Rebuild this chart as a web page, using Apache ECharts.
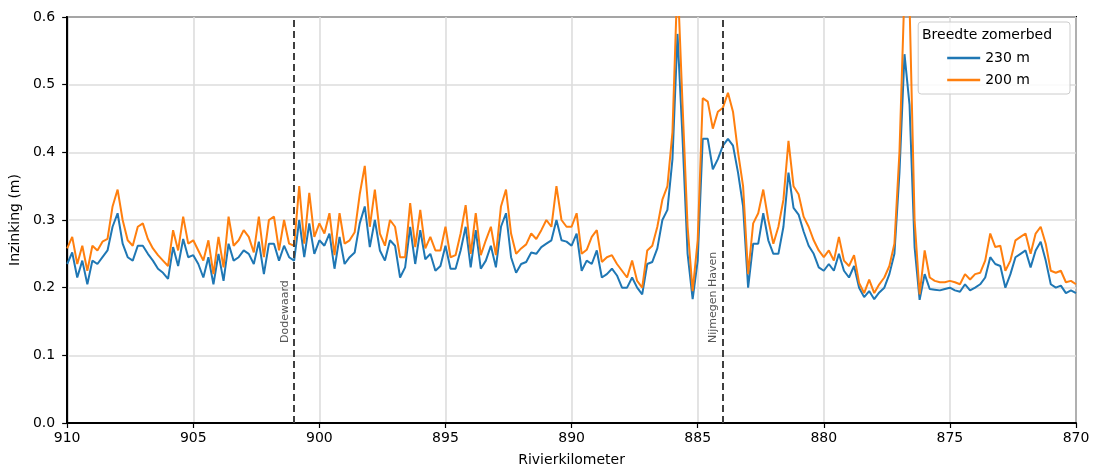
<!DOCTYPE html>
<html>
<head>
<meta charset="utf-8">
<script src="https://cdn.jsdelivr.net/npm/echarts@6/dist/echarts.min.js"></script>
<style>
  html, body { margin: 0; padding: 0; background: #fff; }
  #main { width: 1094px; height: 472px; }
</style>
</head>
<body>
<div id="main"></div>
<script>
// Inzinking per 0.2 km, van rkm 910 naar rkm 870
const zomerbed230 = [
  0.235, 0.252, 0.215, 0.24, 0.205, 0.24, 0.235, 0.245, 0.255, 0.29,
  0.31, 0.265, 0.245, 0.24, 0.262, 0.262, 0.25, 0.24, 0.228, 0.222,
  0.213, 0.26, 0.232, 0.272, 0.245, 0.248, 0.235, 0.215, 0.245, 0.205,
  0.25, 0.21, 0.265, 0.24, 0.245, 0.255, 0.25, 0.235, 0.268, 0.22,
  0.265, 0.265, 0.24, 0.262, 0.245, 0.24, 0.30, 0.245, 0.295, 0.25,
  0.27, 0.262, 0.28, 0.228, 0.275, 0.235, 0.245, 0.252, 0.295, 0.32,
  0.26, 0.30, 0.255, 0.24, 0.27, 0.262, 0.215, 0.23, 0.29, 0.235,
  0.285, 0.242, 0.25, 0.225, 0.232, 0.262, 0.228, 0.228, 0.255, 0.29,
  0.23, 0.285, 0.228, 0.24, 0.262, 0.23, 0.29, 0.31, 0.245, 0.222,
  0.235, 0.238, 0.252, 0.25, 0.26, 0.265, 0.27, 0.30, 0.27, 0.268,
  0.262, 0.28, 0.225, 0.24, 0.235, 0.255, 0.215, 0.22, 0.228, 0.218,
  0.20, 0.20, 0.215, 0.20, 0.19, 0.235, 0.238, 0.258, 0.30, 0.315,
  0.39, 0.575, 0.42, 0.25, 0.183, 0.24, 0.42, 0.42, 0.375, 0.39,
  0.41, 0.42, 0.41, 0.37, 0.32, 0.20, 0.265, 0.265, 0.31, 0.27,
  0.25, 0.25, 0.29, 0.37, 0.318, 0.308, 0.283, 0.262, 0.25, 0.23,
  0.225, 0.235, 0.225, 0.25, 0.225, 0.215, 0.232, 0.20, 0.186, 0.195,
  0.183, 0.193, 0.20, 0.22, 0.25, 0.37, 0.545, 0.47, 0.26, 0.182,
  0.22, 0.198, 0.197, 0.196, 0.198, 0.20, 0.196, 0.194, 0.205, 0.196,
  0.20, 0.205, 0.215, 0.245, 0.235, 0.232, 0.20, 0.22, 0.245, 0.25,
  0.255, 0.23, 0.255, 0.268, 0.24, 0.205, 0.20, 0.203, 0.192, 0.196,
  0.192
];

const zomerbed200 = [
  0.258, 0.275, 0.235, 0.262, 0.225, 0.262, 0.255, 0.268, 0.272, 0.32,
  0.345, 0.30, 0.27, 0.262, 0.29, 0.295, 0.272, 0.258, 0.248, 0.24,
  0.232, 0.285, 0.255, 0.305, 0.265, 0.27, 0.255, 0.24, 0.27, 0.22,
  0.275, 0.23, 0.305, 0.262, 0.27, 0.285, 0.275, 0.252, 0.305, 0.245,
  0.30, 0.305, 0.255, 0.30, 0.265, 0.262, 0.35, 0.265, 0.34, 0.275,
  0.295, 0.28, 0.31, 0.248, 0.31, 0.265, 0.27, 0.282, 0.338, 0.38,
  0.29, 0.345, 0.28, 0.262, 0.30, 0.29, 0.245, 0.245, 0.325, 0.26,
  0.315, 0.258, 0.275, 0.255, 0.255, 0.29, 0.245, 0.248, 0.28, 0.322,
  0.25, 0.31, 0.248, 0.27, 0.29, 0.248, 0.32, 0.345, 0.28, 0.25,
  0.258, 0.264, 0.28, 0.272, 0.285, 0.30, 0.29, 0.35, 0.30, 0.29,
  0.29, 0.31, 0.25, 0.256, 0.275, 0.285, 0.238, 0.245, 0.248, 0.235,
  0.225, 0.215, 0.24, 0.21, 0.20, 0.255, 0.262, 0.29, 0.33, 0.35,
  0.43, 0.66, 0.47, 0.29, 0.195, 0.27, 0.48, 0.475, 0.435, 0.46,
  0.466, 0.488, 0.46, 0.40, 0.35, 0.22, 0.295, 0.31, 0.345, 0.30,
  0.265, 0.29, 0.33, 0.417, 0.35, 0.338, 0.305, 0.29, 0.27, 0.255,
  0.245, 0.255, 0.24, 0.275, 0.24, 0.232, 0.248, 0.207, 0.192, 0.212,
  0.192, 0.205, 0.215, 0.232, 0.265, 0.40, 0.64, 0.62, 0.30, 0.19,
  0.255, 0.215, 0.21, 0.208, 0.208, 0.21, 0.208, 0.205, 0.22, 0.212,
  0.22, 0.222, 0.24, 0.28, 0.26, 0.262, 0.225, 0.24, 0.27, 0.275,
  0.28, 0.25, 0.28, 0.29, 0.265, 0.225, 0.222, 0.225, 0.208, 0.21,
  0.205
];

// rivierkilometers bij de meetpunten (stap 0.2 km)
const rkm = zomerbed230.map((_, i) => +(910 - 0.2 * i).toFixed(1));

const locaties = [
  { naam: "Dodewaard", rkm: 901.0 },
  { naam: "Nijmegen Haven", rkm: 884.0 }
];

const xTicks = [910, 905, 900, 895, 890, 885, 880, 875, 870];

const font = "DejaVu Sans";
const chart = echarts.init(document.getElementById("main"));

const option = {
  animation: false,
  textStyle: { fontFamily: font },
  title: {
    text: "Breedte zomerbed",
    left: 922,
    top: 28,
    padding: 0,
    textStyle: { fontFamily: font, fontSize: 14, fontWeight: "normal", color: "#000" }
  },
  legend: {
    orient: "vertical",
    right: 24,
    top: 22,
    padding: [29, 40, 7, 29],
    itemGap: 8,
    itemWidth: 33,
    itemHeight: 2.5,
    icon: "rect",
    backgroundColor: "rgba(255,255,255,0.85)",
    borderColor: "#cccccc",
    borderWidth: 1,
    borderRadius: 3,
    textStyle: { fontFamily: font, fontSize: 14, color: "#000" },
    data: ["230 m", "200 m"]
  },
  grid: {
    left: 67,
    right: 18,
    top: 17,
    bottom: 46,
    show: true,
    borderColor: "#000",
    borderWidth: 2
  },
  xAxis: {
    type: "value",
    min: 870,
    max: 910,
    interval: 5,
    inverse: true,
    name: "Rivierkilometer",
    nameLocation: "middle",
    nameGap: 30,
    nameTextStyle: { fontFamily: font, fontSize: 14, color: "#000" },
    axisLine: { show: true, lineStyle: { color: "#000", width: 2 } },
    axisTick: { show: true, length: 5, lineStyle: { color: "#000", width: 1.2 } },
    axisLabel: {
      margin: 8,
      fontFamily: font,
      fontSize: 14,
      color: "#000",
      formatter: v => (xTicks.includes(v) ? String(v) : "")
    },
    splitLine: { show: true, lineStyle: { color: "#dddddd", width: 1.6 } }
  },
  yAxis: {
    type: "value",
    min: 0,
    max: 0.6,
    interval: 0.1,
    name: "Inzinking (m)",
    nameLocation: "middle",
    nameGap: 41,
    nameTextStyle: { fontFamily: font, fontSize: 14, color: "#000" },
    axisLine: { show: true, lineStyle: { color: "#000", width: 2 } },
    axisTick: { show: true, length: 5, lineStyle: { color: "#000", width: 1.2 } },
    axisLabel: {
      margin: 12,
      fontFamily: font,
      fontSize: 14,
      color: "#000",
      formatter: v => v.toFixed(1)
    },
    splitLine: { show: true, lineStyle: { color: "#dddddd", width: 1.6 } }
  },
  series: [
    {
      name: "230 m",
      type: "line",
      data: rkm.map((x, i) => [x, zomerbed230[i]]),
      showSymbol: false,
      color: "#1f77b4",
      lineStyle: { width: 2, color: "#1f77b4" },
      clip: true,
      markLine: {
        silent: true,
        symbol: "none",
        lineStyle: { type: [7, 4], color: "#3f3f3f", width: 2 },
        label: {
          show: true,
          position: "insideStartTop",
          distance: [80, 4],
          color: "#555",
          fontFamily: font,
          fontSize: 11,
          formatter: p => p.name
        },
        data: locaties.map(l => ({ name: l.naam, xAxis: l.rkm }))
      }
    },
    {
      name: "200 m",
      type: "line",
      data: rkm.map((x, i) => [x, zomerbed200[i]]),
      showSymbol: false,
      color: "#ff7f0e",
      lineStyle: { width: 2, color: "#ff7f0e" },
      clip: true
    }
  ]
};

chart.setOption(option);
</script>
</body>
</html>
